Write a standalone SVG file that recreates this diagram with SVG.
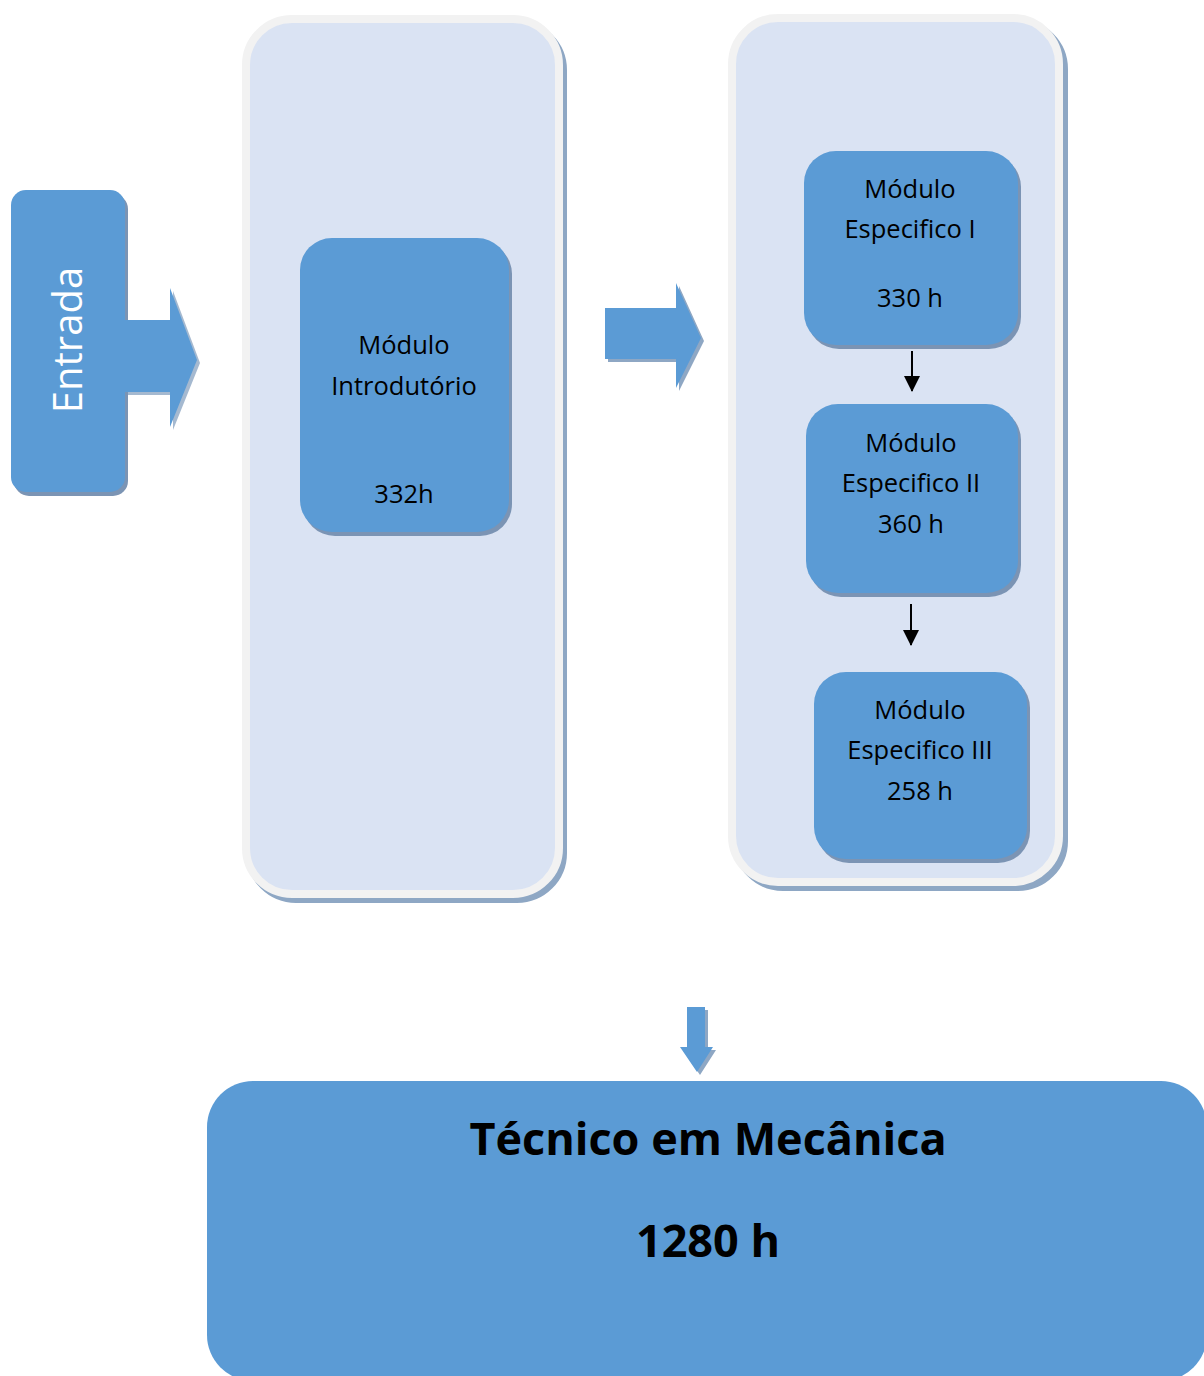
<svg xmlns="http://www.w3.org/2000/svg" width="1204" height="1376" viewBox="0 0 1204 1376">
<defs>
<style>
.cont{fill:#dae3f3;stroke:#f2f2f2;stroke-width:8}
.cshadow{fill:#8ea7c4;stroke:#8ea7c4;stroke-width:8}
.box{fill:#5b9bd5}
.bshadow{fill:#7b94b4}
.ashadow{fill:#8ea7c4}
.t{font-family:"Open Sans","Liberation Sans",sans-serif;font-size:25.5px;fill:#000;text-anchor:middle}
.big{font-family:"Open Sans","Liberation Sans",sans-serif;font-size:45px;font-weight:bold;fill:#000;text-anchor:middle}
.conn{stroke:#000;stroke-width:2;fill:none}
</style>
<marker id="ah" markerWidth="8" markerHeight="8" refX="7.5" refY="4" orient="auto" markerUnits="strokeWidth">
<path d="M0,0 L8,4 L0,8 Z" fill="#000"/>
</marker>
</defs>
<rect width="1204" height="1376" fill="#fff"/>

<g id="container-introdutorio">
<rect class="cshadow" x="250" y="24" width="313" height="875" rx="46"/>
<rect class="cont" x="246" y="19" width="313" height="875" rx="46"/>
</g>
<g id="container-especifico">
<rect class="cshadow" x="737" y="23" width="327" height="864" rx="46"/>
<rect class="cont" x="732" y="18" width="327" height="864" rx="46"/>
</g>

<g id="entrada">
<rect class="bshadow" x="14" y="194" width="114" height="302" rx="15"/>
<rect class="box" x="11" y="190" width="114" height="302" rx="15"/>
<text transform="translate(82,340) rotate(-90)" font-family="Open Sans, Liberation Sans, sans-serif" font-size="40" fill="#fff" text-anchor="middle">Entrada</text>
</g>

<g id="modulo-introdutorio">
<rect class="bshadow" x="303" y="242" width="209" height="294" rx="32"/>
<rect class="box" x="300" y="238" width="209" height="294" rx="32"/>
<text class="t" x="404" y="354">Módulo</text>
<text class="t" x="404" y="395">Introdutório</text>
<text class="t" x="404" y="503">332h</text>
</g>

<g id="modulo-especifico-1">
<rect class="bshadow" x="807" y="155" width="214" height="194" rx="32"/>
<rect class="box" x="804" y="151" width="214" height="194" rx="32"/>
<text class="t" x="910" y="198">Módulo</text>
<text class="t" x="910" y="238">Especifico I</text>
<text class="t" x="910" y="307">330 h</text>
</g>

<g id="modulo-especifico-2">
<rect class="bshadow" x="809" y="408" width="212" height="189" rx="32"/>
<rect class="box" x="806" y="404" width="212" height="189" rx="32"/>
<text class="t" x="911" y="452">Módulo</text>
<text class="t" x="911" y="492">Especifico II</text>
<text class="t" x="911" y="533">360 h</text>
</g>

<g id="modulo-especifico-3">
<rect class="bshadow" x="817" y="676" width="213" height="187" rx="32"/>
<rect class="box" x="814" y="672" width="213" height="187" rx="32"/>
<text class="t" x="920" y="719">Módulo</text>
<text class="t" x="920" y="759">Especifico III</text>
<text class="t" x="920" y="800">258 h</text>
</g>

<g id="tecnico-em-mecanica">
<rect class="box" x="207" y="1081" width="1000" height="300" rx="46"/>
<text class="big" x="708" y="1155">Técnico em Mecânica</text>
<text class="big" x="708" y="1257">1280 h</text>
</g>

<g id="connectors">
<path class="ashadow" d="M128,323 H173 V291 L200,363 L173,430 V395 H128 Z" opacity="0.8"/>
<path class="box" d="M125,320 H170 V288 L197,360 L170,427 V392 H125 Z"/>
<path class="ashadow" d="M608,311 H679 V286 L704,341 L679,391 V362 H608 Z"/>
<path class="box" d="M605,308 H676 V283 L701,338 L676,388 V359 H605 Z"/>
<path class="ashadow" d="M690,1010 H708 V1050 H716 L700,1075 L683,1050 H690 Z"/>
<path class="box" d="M687,1007 H705 V1047 H713 L697,1072 L680,1047 H687 Z"/>
<line class="conn" x1="912" y1="351" x2="912" y2="391" marker-end="url(#ah)"/>
<line class="conn" x1="911" y1="604" x2="911" y2="645" marker-end="url(#ah)"/>
</g>
</svg>
